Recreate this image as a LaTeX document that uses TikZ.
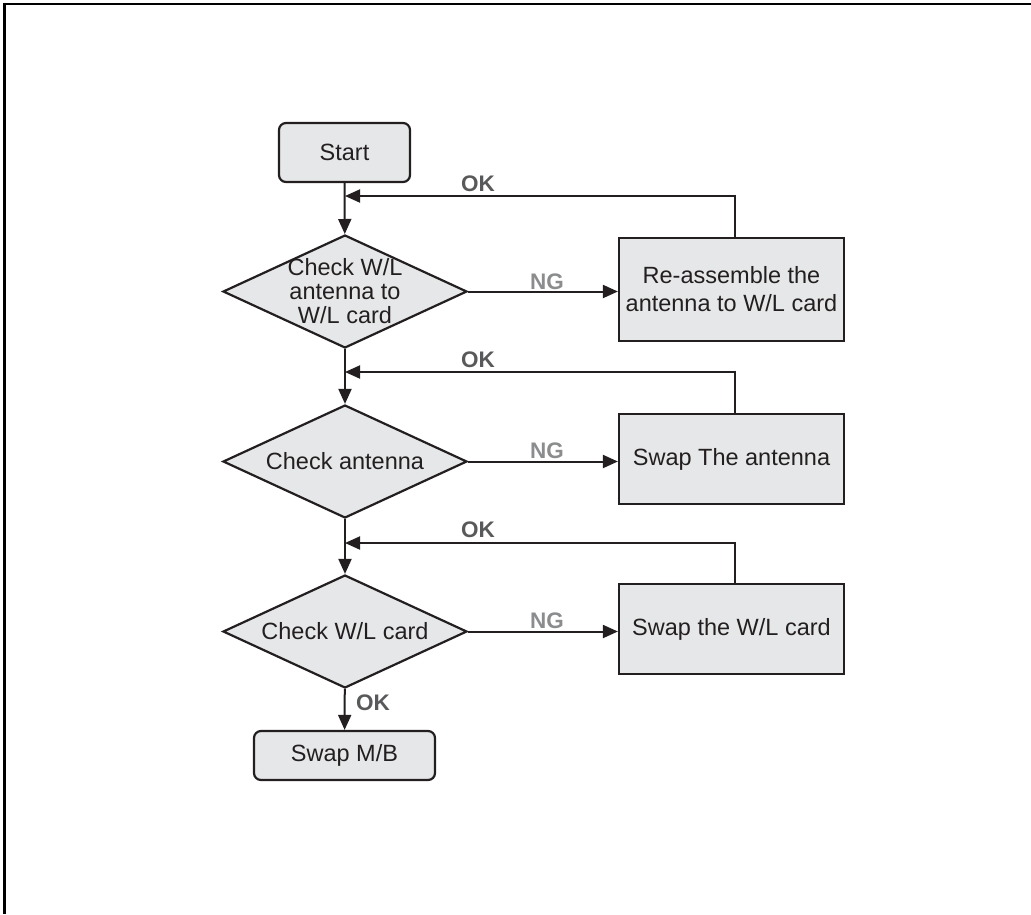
\documentclass[tikz,border=0pt]{standalone}
\usepackage{fontspec}
\setmainfont{Liberation Sans}
\usetikzlibrary{arrows.meta,shapes.geometric}
\definecolor{boxfill}{HTML}{E6E7E8}
\definecolor{linec}{HTML}{231F20}
\definecolor{okc}{HTML}{58595B}
\definecolor{ngc}{HTML}{8A8C8E}
\tikzset{
  base/.style={draw=linec, fill=boxfill, line width=2.2pt, inner sep=0pt},
  termbox/.style={base, rectangle, rounded corners=7pt},
  procbox/.style={base, rectangle, minimum width=225pt},
  dia/.style={base, diamond, minimum width=244pt, minimum height=113pt},
  txt/.style={text=linec, align=center, font=\fontsize{23.5}{28}\selectfont},
  diatxt/.style={text=linec, align=center, font=\fontsize{23.5}{24}\selectfont},
  conn/.style={draw=linec, line width=2pt},
  arr/.style={conn, -{Triangle[length=15pt,width=13pt]}},
  oklab/.style={text=okc, font=\fontsize{22.5}{24}\selectfont\bfseries},
  nglab/.style={text=ngc, font=\fontsize{22.5}{24}\selectfont\bfseries},
}
\begin{document}
\begin{tikzpicture}[x=1pt,y=-1pt]
\useasboundingbox (0,0) rectangle (1031,914);
% frame
\draw[line width=2.6pt, black] (4.5,914) -- (4.5,4) -- (1031,4);

% nodes
\node[termbox, minimum width=131pt, minimum height=59pt] (start) at (344.5,152.5) {};
\node[txt] at (start) {Start};

\node[dia] (d1) at (345,291.5) {};
\node[diatxt] at (d1) {Check W/L\\antenna to\\W/L card};
\node[procbox, minimum height=103pt] (b1) at (731.5,289.5) {};
\node[txt] at (b1) {Re-assemble the\\antenna to W/L card};

\node[dia] (d2) at (345,461.5) {};
\node[txt] at (d2) {Check antenna};
\node[procbox, minimum height=90pt] (b2) at (731.5,459) {};
\node[txt] at (b2) {Swap The antenna};

\node[dia] (d3) at (345,631.5) {};
\node[txt] at (d3) {Check W/L card};
\node[procbox, minimum height=90pt] (b3) at (731.5,629) {};
\node[txt] at (b3) {Swap the W/L card};

\node[termbox, minimum width=181pt, minimum height=49pt] (endb) at (344.5,755.5) {};
\node[txt] at (endb) {Swap M/B};

% merge points
\coordinate (m1) at (345,196);
\coordinate (m2) at (345,372);
\coordinate (m3) at (345,543);

% connectors
\draw[arr] (start) -- (d1);
\draw[arr] (d1) -- (d2);
\draw[arr] (d2) -- (d3);
\draw[arr] (d3) -- (endb);

\draw[arr] (d1.east) -- (d1.east -| b1.west);
\draw[arr] (d2.east) -- (d2.east -| b2.west);
\draw[arr] (d3.east) -- (d3.east -| b3.west);

\draw[arr] (b1.north -| 735,0) |- (m1);
\draw[arr] (b2.north -| 735,0) |- (m2);
\draw[arr] (b3.north -| 735,0) |- (m3);

% labels
\node[oklab] at (478,184) {OK};
\node[oklab] at (478,360) {OK};
\node[oklab] at (478,530) {OK};
\node[nglab] at (547,282) {NG};
\node[nglab] at (547,451) {NG};
\node[nglab] at (547,621) {NG};
\node[oklab] at (373,703) {OK};
\end{tikzpicture}
\end{document}
